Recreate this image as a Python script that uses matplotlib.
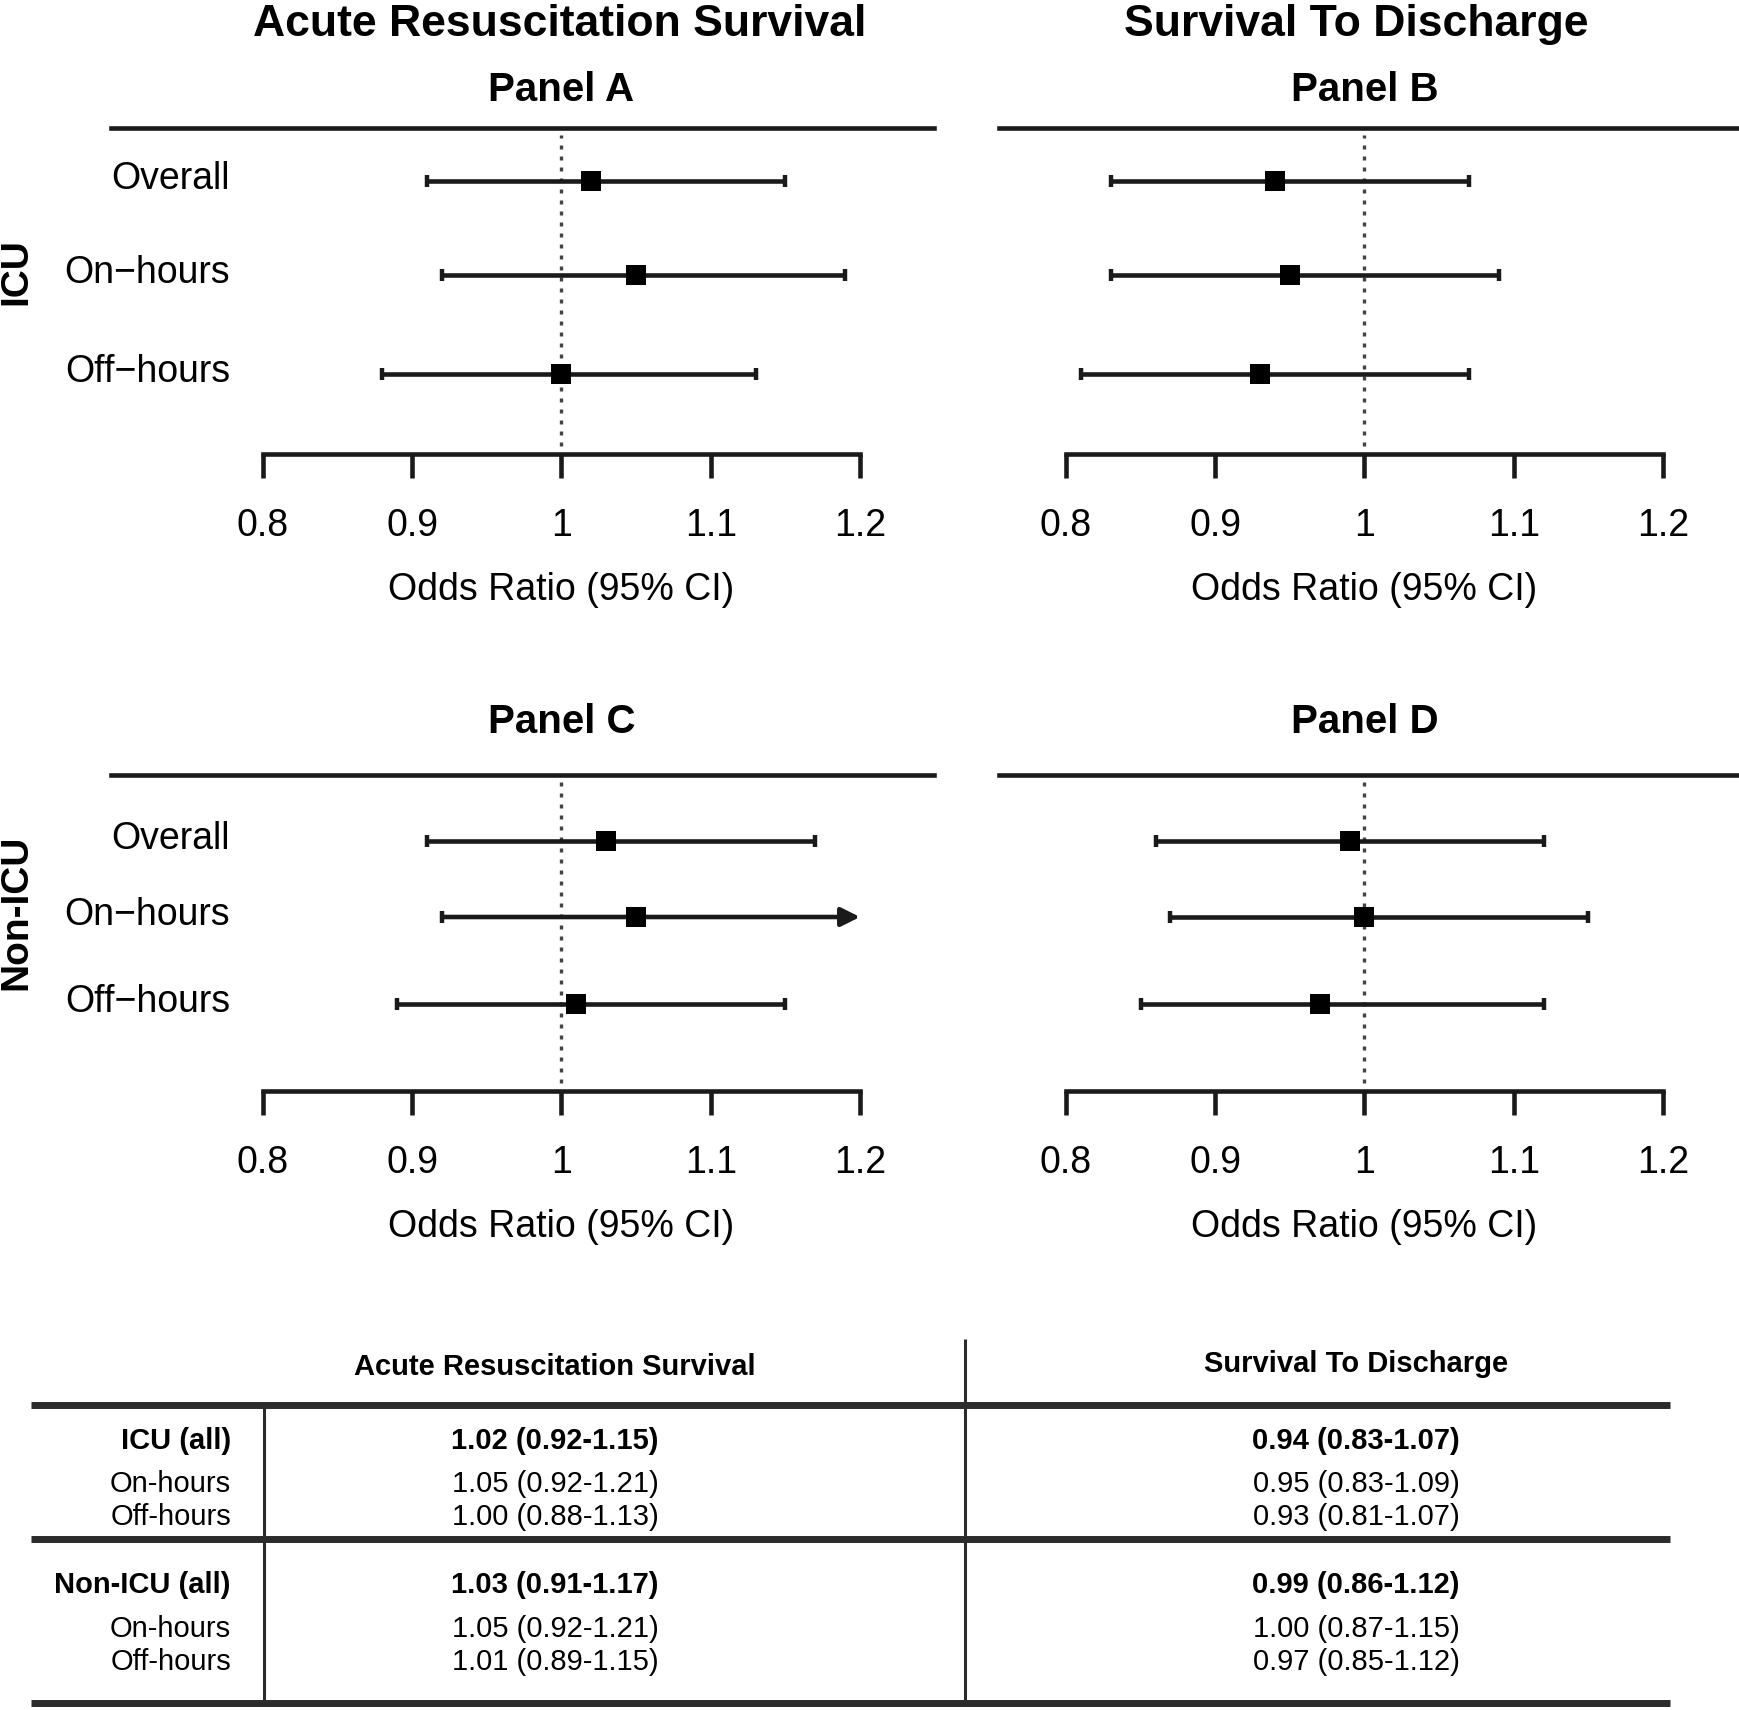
import matplotlib
matplotlib.use('Agg')
import matplotlib.pyplot as plt
from matplotlib.transforms import blended_transform_factory

plt.rcParams['font.family'] = ['Liberation Sans', 'DejaVu Sans']

# ---------------- data ----------------
col_titles = ['Acute Resuscitation Survival', 'Survival To Discharge']
group_labels = ['ICU', 'Non-ICU']
panel_names = ['Panel A', 'Panel B', 'Panel C', 'Panel D']
row_labels = ['Overall', 'On\u2212hours', 'Off\u2212hours']

# odds ratio with 95% CI as drawn (rows: Overall, On-hours, Off-hours)
A_or = [1.02, 1.05, 1.00]
A_lo = [0.91, 0.92, 0.88]
A_hi = [1.15, 1.19, 1.13]
B_or = [0.94, 0.95, 0.93]
B_lo = [0.83, 0.83, 0.81]
B_hi = [1.07, 1.09, 1.07]
C_or = [1.03, 1.05, 1.01]
C_lo = [0.91, 0.92, 0.89]
C_hi = [1.17, 1.21, 1.15]
D_or = [0.99, 1.00, 0.97]
D_lo = [0.86, 0.87, 0.85]
D_hi = [1.12, 1.15, 1.12]

xticks = [0.8, 0.9, 1.0, 1.1, 1.2]
xticklabels = ['0.8', '0.9', '1', '1.1', '1.2']
x_axis_label = 'Odds Ratio (95% CI)'
ref_value = 1.0

table_row_labels = ['ICU (all)', 'On-hours', 'Off-hours',
                    'Non-ICU (all)', 'On-hours', 'Off-hours']
table_acute = ['1.02 (0.92-1.15)', '1.05 (0.92-1.21)', '1.00 (0.88-1.13)',
               '1.03 (0.91-1.17)', '1.05 (0.92-1.21)', '1.01 (0.89-1.15)']
table_discharge = ['0.94 (0.83-1.07)', '0.95 (0.83-1.09)', '0.93 (0.81-1.07)',
                   '0.99 (0.86-1.12)', '1.00 (0.87-1.15)', '0.97 (0.85-1.12)']
table_bold_rows = [0, 3]

# ---------------- layout ----------------
W, H, DPI = 1740, 1710, 100
fig = plt.figure(figsize=(W / DPI, H / DPI), dpi=DPI)
fig.patch.set_facecolor('white')

# full-figure overlay in pixel coordinates for titles / table
ax_t = fig.add_axes([0, 0, 1, 1])
ax_t.set_xlim(0, W)
ax_t.set_ylim(H, 0)
ax_t.axis('off')
ax_t.patch.set_visible(False)

LINE = '#1a1a1a'


def ptext(x, y, s, size, bold=False, ha='center'):
    """place text so that its cap-height centre is at pixel y"""
    cap = 0.716 * size * DPI / 72.0
    ax_t.text(x, y + cap / 2.0, s, fontsize=size,
              fontweight='bold' if bold else 'normal',
              ha=ha, va='baseline', color='black')


def px_axes(x0, y0, x1, y1):
    return fig.add_axes([x0 / W, 1 - y1 / H, (x1 - x0) / W, (y1 - y0) / H])


PX_PER_UNIT = 1492.5
col_px = [(111, 934, 263), (999, 1740, 1066)]        # axes left, right, px of 0.8
# axes top (top rule), axes bottom (x axis line), row centres (pixel layout)
row_px = [(128, 454, (181, 275, 374)), (775, 1091, (841, 917, 1004))]
panel_title_y = [87, 719]

panels = [(A_or, A_lo, A_hi), (B_or, B_lo, B_hi),
          (C_or, C_lo, C_hi), (D_or, D_lo, D_hi)]

LW = 3.3
for p, (ors, los, his) in enumerate(panels):
    r, c = divmod(p, 2)
    x0, x1, px08 = col_px[c]
    y0, y1, ypos = row_px[r]
    ax = px_axes(x0, y0, x1, y1)
    ax.patch.set_visible(False)
    xl = (0.8 - (px08 - x0) / PX_PER_UNIT, 0.8 + (x1 - px08) / PX_PER_UNIT)
    ax.set_xlim(*xl)
    ax.set_ylim(y1, y0)
    for s in ['left', 'right']:
        ax.spines[s].set_visible(False)
    ax.spines['top'].set_linewidth(LW)
    ax.spines['top'].set_color(LINE)
    ax.spines['bottom'].set_linewidth(LW)
    ax.spines['bottom'].set_color(LINE)
    ax.spines['bottom'].set_bounds(xticks[0], xticks[-1])
    ax.set_yticks([])
    ax.set_xticks(xticks)
    ax.set_xticklabels(xticklabels)
    ax.tick_params(axis='x', direction='out', length=17.3, width=LW,
                   color=LINE, labelsize=27, pad=21.6)
    xfrac = (ref_value - xl[0]) / (xl[1] - xl[0])
    ax.set_xlabel(x_axis_label, fontsize=27, labelpad=20, x=xfrac, ha='center')

    ax.axvline(ref_value, ymin=0.025, ymax=0.98, color='#444444', lw=2.4,
               linestyle=(0, (1.2, 2.1)), zorder=1)

    for y, o, lo, hi in zip(ypos, ors, los, his):
        if hi > xticks[-1]:
            ax.annotate('', xy=(xticks[-1], y), xytext=(lo, y),
                        arrowprops=dict(arrowstyle='-|>', lw=LW, color=LINE,
                                        mutation_scale=28, shrinkA=0, shrinkB=0),
                        zorder=2)
        else:
            ax.plot([lo, hi], [y, y], color=LINE, lw=LW, zorder=2,
                    solid_capstyle='butt')
            ax.plot([hi], [y], marker='|', ms=8, mew=3.2, color=LINE, zorder=2)
        ax.plot([lo], [y], marker='|', ms=8, mew=3.2, color=LINE, zorder=2)
        ax.plot([o], [y], marker='s', ms=13.8, color='black', zorder=3,
                markeredgewidth=0)

    if c == 0:
        tr = blended_transform_factory(ax_t.transData, ax.transData)
        for y, lab in zip(ypos, row_labels):
            ax.text(230, y - 2, lab, transform=tr, ha='right', va='center',
                    fontsize=27, color='black')

    # panel title, centred over the x axis
    ptext(px08 + (1.0 - 0.8) * PX_PER_UNIT, panel_title_y[r],
          panel_names[p], 29, bold=True)

# column titles
ptext(560, 20, col_titles[0], 32, bold=True)
ptext(1356, 20, col_titles[1], 32, bold=True)

# group labels (rotated)
ax_t.text(16, 272, group_labels[0], rotation=90, fontsize=28, fontweight='bold',
          ha='center', va='center')
ax_t.text(16, 912, group_labels[1], rotation=90, fontsize=28, fontweight='bold',
          ha='center', va='center')

# ---------------- summary table ----------------
TLW = 5.0
ax_t.hlines([1405, 1539, 1703], 31, 1670, color='#2b2b2b', lw=TLW)
ax_t.vlines(264, 1405, 1703, color='#2b2b2b', lw=2.2)
ax_t.vlines(965, 1339, 1703, color='#2b2b2b', lw=2.2)

ptext(555, 1365, col_titles[0], 21, bold=True)
ptext(1356, 1362, col_titles[1], 21, bold=True)

row_y = [1439, 1482, 1515, 1583, 1627, 1660]
for i, (y, lab, a, d) in enumerate(zip(row_y, table_row_labels, table_acute, table_discharge)):
    b = i in table_bold_rows
    ptext(231, y, lab, 21, bold=b, ha='right')
    ptext(555, y, a, 21, bold=b)
    ptext(1356, y, d, 21, bold=b)

fig.savefig('out.png', dpi=DPI, facecolor='white')
